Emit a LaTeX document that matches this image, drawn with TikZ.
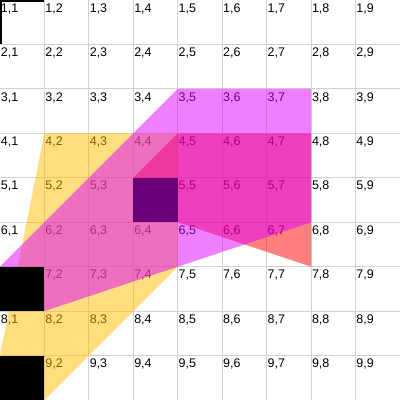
\documentclass[tikz,border=0pt]{standalone}
\usepackage{fontspec}
\setmainfont{Liberation Sans}
\definecolor{yellowfill}{RGB}{255,190,0}
\definecolor{redfill}{RGB}{255,0,0}
\definecolor{magentafill}{RGB}{222,0,255}
\definecolor{purplefill}{RGB}{106,0,120}
\begin{document}
\begin{tikzpicture}[x=1cm, y=-1cm,
    celllabel/.style={anchor=north west, inner xsep=0.4pt, inner ysep=2pt, font=\fontsize{8}{9}\selectfont},
    gridline/.style={black!18, line width=0.6pt},
    patch/.style={fill opacity=0.5}]
      \useasboundingbox (0,0) rectangle (9,9);

      % grid and cell labels
      \foreach \k in {1,...,8} {
          \draw[gridline] (\k,0) -- (\k,9);
          \draw[gridline] (0,\k) -- (9,\k);
      }
      \foreach \r in {1,...,9}
          \foreach \c in {1,...,9}
              \node[celllabel] (l\r\c) at ({\c-1},{\r-1}) {\r,\c};

      % see-through patches
      \fill[patch, fill=yellowfill] (1,3) -- (4,3) -- (4,6) -- (1,9) -- (0,9) -- (0,8) -- cycle;
      \fill[patch, fill=redfill] (3,4) -- (4,3) -- (7,3) -- (7,6) -- (4,5) -- cycle;
      \fill[patch, fill=magentafill] (4,2) -- (7,2) -- (7,5) -- (1,7) -- (0,6) -- cycle;

      % solid cells
      \fill[purplefill] (3,4) rectangle (4,5);
      \fill[black] (0,6) rectangle (1,7);
      \fill[black] (0,8) rectangle (1,9);

      \draw[line width=2pt] (0,1) -- (0,0) -- (1,0);
\end{tikzpicture}
\end{document}
